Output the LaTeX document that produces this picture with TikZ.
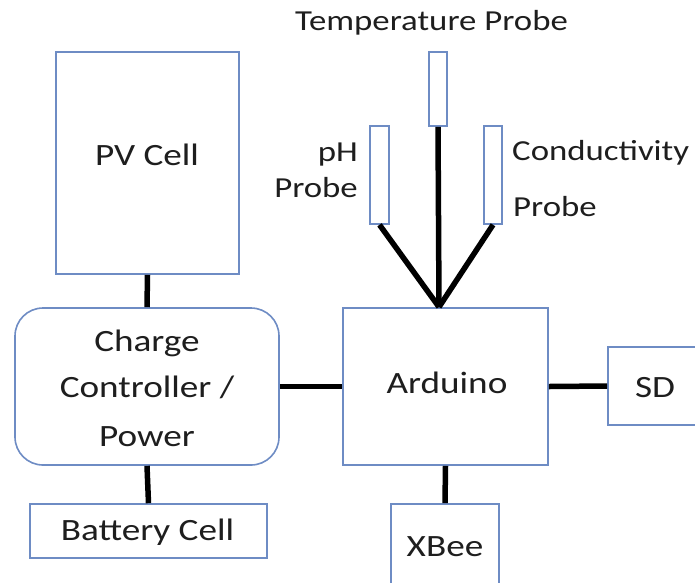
\documentclass[tikz,border=0pt]{standalone}
\usepackage{fontspec}
\setmainfont[FakeStretch=1.2]{Carlito}
\definecolor{boxblue}{RGB}{110,140,196}
\definecolor{txt}{RGB}{30,30,30}
\begin{document}
\begin{tikzpicture}[x=1pt,y=-1pt,
  box/.style={draw=boxblue, line width=1.6pt, inner sep=0pt, fill=white},
  conn/.style={line width=5.5pt, draw=black},
  lbl/.style={inner sep=0pt, text=txt, font=\fontsize{31}{37}\selectfont},
  plbl/.style={inner sep=0pt, text=txt, font=\fontsize{29}{34}\selectfont}]
\useasboundingbox (0,0) rectangle (695,582);
% boxes
\node[box, minimum width=183pt, minimum height=222pt] (pv) at (147.5,163) {};
\node[box, rounded corners=28pt, minimum width=264pt, minimum height=157pt] (cc) at (147,386.5) {};
\node[box, minimum width=237pt, minimum height=54pt] (bat) at (148.5,531) {};
\node[box, minimum width=205pt, minimum height=157pt] (ard) at (445.5,386.5) {};
\node[box, minimum width=92pt, minimum height=78pt] (sd) at (654,386) {};
\node[box, minimum width=108pt, minimum height=96pt] (xbee) at (445,552) {};
\node[box, minimum width=18pt, minimum height=74pt] (temp) at (438,89) {};
\node[box, minimum width=19pt, minimum height=98pt] (ph) at (379.5,175) {};
\node[box, minimum width=18pt, minimum height=98pt] (cond) at (493,175) {};
\coordinate (j) at (439,307);
% connectors
\draw[conn] (pv.south) -- (cc.north);
\draw[conn] (cc.south) -- (bat.north);
\draw[conn] (cc.east) -- (ard.west);
\draw[conn] (ard.east) -- (sd.west);
\draw[conn] (ard.south) -- (xbee.north);
\draw[conn] (temp.south) -- (j);
\draw[conn] (ph.south) -- (j);
\draw[conn] (cond.south) -- (j);
% labels
\node[lbl] (pvt) at (147,155) {PV Cell};
\node[lbl] (cct1) at (147,343) {Charge};
\node[lbl] (cct2) at (147,387) {Controller /};
\node[lbl] (cct3) at (147,437) {Power};
\node[lbl] (batt) at (147.5,532) {Battery Cell};
\node[lbl] (ardt) at (447,383) {Arduino};
\node[lbl] (sdt) at (655,388) {SD};
\node[lbl] (xbt) at (445,547) {XBee};
\node[plbl] (tempt) at (431.5,23) {Temperature Probe};
\node[plbl, anchor=east] (pht1) at (358,155) {pH};
\node[plbl, anchor=east] (pht2) at (358,188) {Probe};
\node[plbl, anchor=west] (condt1) at (512,153) {Conductivity};
\node[plbl, anchor=west] (condt2) at (513,207) {Probe};
\end{tikzpicture}
\end{document}
